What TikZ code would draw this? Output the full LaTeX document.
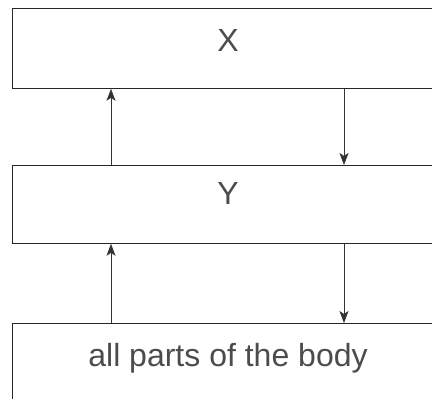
\documentclass[tikz,border=0pt]{standalone}
\usepackage{fontspec}
\setmainfont{Liberation Sans}
\usetikzlibrary{arrows.meta}
\begin{document}
\begin{tikzpicture}[x=1pt,y=-1pt,
  box/.style={draw=black!85,line width=0.8pt,rectangle,anchor=north west,inner sep=0pt},
  lbl/.style={font=\fontsize{32}{36}\selectfont,text=black!70,inner sep=0pt},
  conn/.style={draw=black!80,line width=0.7pt,-{Stealth[length=12pt,width=9pt,inset=3pt]}}]
\useasboundingbox (0,0) rectangle (432,399);
\clip (0,0) rectangle (432,399);
\node[box,minimum width=432pt,minimum height=80pt] (X) at (12,8) {};
\node[box,minimum width=432pt,minimum height=78pt] (Y) at (12,165) {};
\node[box,minimum width=432pt,minimum height=90pt] (B) at (12,323) {};
\node[lbl] (tx) at (228,40) {X};
\node[lbl] (ty) at (228,193) {Y};
\node[lbl,anchor=base] (tb) at (228,366) {all parts of the body};
\draw[conn] (B.north -| 111,0) -- (Y.south -| 111,0);
\draw[conn] (Y.north -| 111,0) -- (X.south -| 111,0);
\draw[conn] (X.south -| 344,0) -- (Y.north -| 344,0);
\draw[conn] (Y.south -| 344,0) -- (B.north -| 344,0);
\end{tikzpicture}
\end{document}
